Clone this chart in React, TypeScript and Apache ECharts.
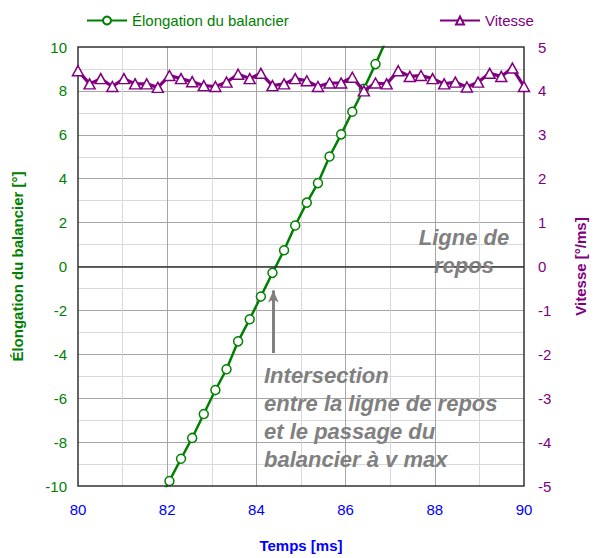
import React, { useEffect, useRef } from "react";
import * as echarts from "echarts";

// Time (ms) of each sample
const times = [
  80.0, 80.26, 80.51, 80.77, 81.03, 81.28, 81.54, 81.79, 82.05, 82.31,
  82.56, 82.82, 83.08, 83.33, 83.59, 83.85, 84.1, 84.36, 84.62, 84.87,
  85.13, 85.38, 85.64, 85.9, 86.15, 86.41, 86.67, 86.92, 87.18, 87.44,
  87.69, 87.95, 88.21, 88.46, 88.72, 88.97, 89.23, 89.49, 89.74, 90.0,
];

// Vitesse [°/ms]
const vitesse = [
  4.46, 4.16, 4.28, 4.1, 4.28, 4.16, 4.16, 4.08, 4.35, 4.28,
  4.21, 4.12, 4.1, 4.2, 4.38, 4.28, 4.4, 4.12, 4.16, 4.28,
  4.23, 4.1, 4.18, 4.18, 4.31, 4.0, 4.18, 4.16, 4.46, 4.33,
  4.35, 4.28, 4.16, 4.2, 4.09, 4.2, 4.4, 4.33, 4.52, 4.1,
];

// Élongation du balancier [°]
const elongTimes = [
  81.79, 82.05, 82.31, 82.56, 82.82, 83.08, 83.33, 83.59, 83.85, 84.1,
  84.36, 84.62, 84.87, 85.13, 85.38, 85.64, 85.9, 86.15, 86.41, 86.67, 86.92,
];
const elongation = [
  -10.8, -9.77, -8.76, -7.81, -6.72, -5.63, -4.68, -3.41, -2.4, -1.37,
  -0.29, 0.74, 1.87, 2.91, 3.8, 5.01, 6.02, 7.05, 8.1, 9.22, 10.35,
];

// Annotation arrow (data coordinates)
const arrowTime = 84.38;
const arrowFrom = -3.94;
const arrowTo = -1.09;

const FONT = "'Liberation Sans', Arial, sans-serif";
const GREEN = "#008000";
const PURPLE = "#800080";
const BLUE = "#0000ff";
const GREY = "#808080";

export default function App() {
  const ref = useRef<HTMLDivElement>(null);

  useEffect(() => {
    if (!ref.current) return;
    const chart = echarts.init(ref.current, undefined, { renderer: "svg" });

    const elongData = elongTimes.map((t, i) => [t, elongation[i]]);
    const vitData = times.map((t, i) => [t, vitesse[i]]);

    chart.setOption({
      animation: false,
      backgroundColor: "#ffffff",
      textStyle: { fontFamily: FONT },
      grid: {
        left: 78,
        right: 64,
        top: 47,
        bottom: 69,
        show: true,
        borderColor: "#333333",
        borderWidth: 1.5,
        backgroundColor: "transparent",
        z: 3,
      },
      legend: [
        {
          data: ["Élongation du balancier"],
          left: 81,
          top: 8,
          itemWidth: 40,
          itemHeight: 10,
          itemGap: 4,
          textStyle: { color: GREEN, fontSize: 15, fontFamily: FONT },
        },
        {
          data: ["Vitesse"],
          left: 434,
          top: 8,
          itemWidth: 40,
          itemHeight: 10,
          itemGap: 4,
          textStyle: { color: PURPLE, fontSize: 15, fontFamily: FONT },
        },
      ],
      xAxis: {
        type: "value",
        min: 80,
        max: 90,
        interval: 2,
        name: "Temps [ms]",
        nameLocation: "middle",
        nameGap: 52,
        nameTextStyle: { color: BLUE, fontSize: 15, fontWeight: "bold", fontFamily: FONT },
        axisLine: { show: false },
        axisTick: { show: false },
        axisLabel: { color: BLUE, fontSize: 15, margin: 16, fontFamily: FONT },
        splitLine: { show: true, showMinLine: false, showMaxLine: false, lineStyle: { color: "#a6a6a6", width: 1 } },
        minorTick: { show: false, splitNumber: 2 },
        minorSplitLine: { show: true, lineStyle: { color: "#d9d9d9", width: 1 } },
      },
      yAxis: [
        {
          type: "value",
          min: -10,
          max: 10,
          interval: 2,
          name: "Élongation du balancier [°]",
          nameLocation: "middle",
          nameGap: 53,
          nameRotate: 90,
          nameTextStyle: { color: GREEN, fontSize: 15, fontWeight: "bold", fontFamily: FONT },
          axisLine: { show: false },
          axisTick: { show: false },
          axisLabel: { color: GREEN, fontSize: 15, margin: 11, fontFamily: FONT },
          splitLine: { show: true, showMinLine: false, showMaxLine: false, lineStyle: { color: "#a6a6a6", width: 1 } },
          minorTick: { show: false, splitNumber: 2 },
          minorSplitLine: { show: true, lineStyle: { color: "#d9d9d9", width: 1 } },
        },
        {
          type: "value",
          min: -5,
          max: 5,
          interval: 1,
          position: "right",
          name: "Vitesse [°/ms]",
          nameLocation: "middle",
          nameGap: 49,
          nameRotate: 90,
          nameTextStyle: { color: PURPLE, fontSize: 15, fontWeight: "bold", fontFamily: FONT },
          axisLine: { show: false },
          axisTick: { show: false },
          axisLabel: { color: PURPLE, fontSize: 15, margin: 14, fontFamily: FONT },
          splitLine: { show: false },
        },
      ],
      series: [
        {
          name: "Élongation du balancier",
          type: "line",
          yAxisIndex: 0,
          data: elongData,
          clip: true,
          symbol: "circle",
          symbolSize: 9,
          showAllSymbol: true,
          lineStyle: { color: GREEN, width: 2.5 },
          itemStyle: { color: "#ffffff", borderColor: GREEN, borderWidth: 1.5 },
          z: 2,
          markLine: {
            silent: true,
            symbol: ["none", "none"],
            label: { show: false },
            animation: false,
            data: [
              {
                yAxis: 0,
                lineStyle: { color: "#333333", width: 1.5, type: "solid" },
              },
              [
                { coord: [arrowTime, arrowFrom], symbol: "none" },
                {
                  coord: [arrowTime, arrowTo],
                  symbol: "arrow",
                  symbolSize: [8, 12],
                },
              ],
            ],
            lineStyle: { color: GREY, width: 3, type: "solid" },
          },
        },
        {
          name: "Vitesse",
          type: "line",
          yAxisIndex: 1,
          data: vitData,
          clip: true,
          symbol: "triangle",
          symbolSize: [11, 10],
          showAllSymbol: true,
          lineStyle: { color: PURPLE, width: 3.2 },
          itemStyle: { color: "#ffffff", borderColor: PURPLE, borderWidth: 1.5 },
          z: 4,
        },
      ],
      graphic: [
        {
          type: "text",
          x: 464,
          y: 251,
          z: 10,
          style: {
            text: "Ligne de\nrepos",
            fill: GREY,
            font: `italic bold 22px ${FONT}`,
            align: "center",
            verticalAlign: "middle",
            lineHeight: 28,
          },
        },
        {
          type: "text",
          x: 264,
          y: 361,
          z: 10,
          style: {
            text: "Intersection\nentre la ligne de repos\net le passage du\nbalancier à v max",
            fill: GREY,
            font: `italic bold 22px ${FONT}`,
            align: "left",
            verticalAlign: "top",
            lineHeight: 28,
          },
        },
      ],
    });

    return () => chart.dispose();
  }, []);

  return (
    <div
      ref={ref}
      style={{ position: "absolute", left: 0, top: 0, width: 596, height: 558 }}
    />
  );
}
